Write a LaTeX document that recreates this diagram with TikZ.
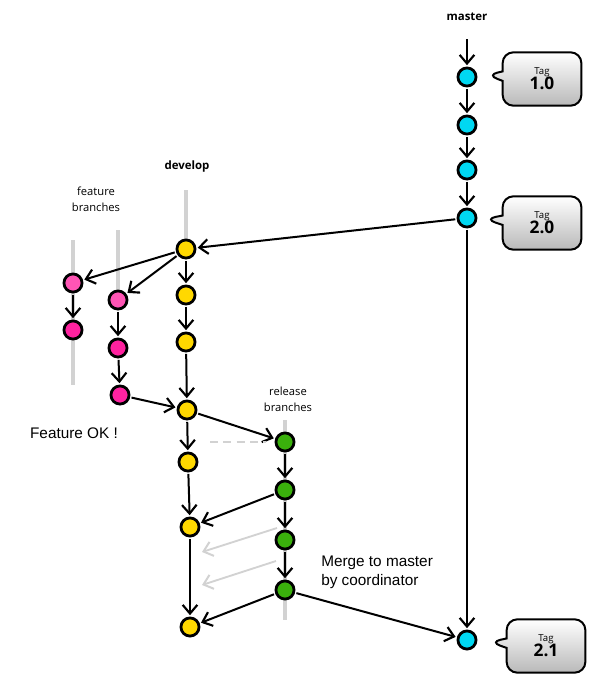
\documentclass[tikz,border=0pt]{standalone}
\usepackage{fontspec}
\setmainfont{Open Sans}
\newfontfamily\arialf{Liberation Sans}
\usetikzlibrary{arrows.meta,shapes.callouts}
\definecolor{cyanc}{HTML}{00D8F2}
\definecolor{yelc}{HTML}{FFD800}
\definecolor{pinkl}{HTML}{FF55B5}
\definecolor{pinkc}{HTML}{FF22A0}
\definecolor{greenc}{HTML}{3AB00C}
\definecolor{greyl}{HTML}{D2D2D2}
\tikzset{
  commit/.style={circle, draw=black, line width=2.1pt, minimum size=13.6pt, inner sep=0pt},
  mc/.style={commit, fill=cyanc},
  dc/.style={commit, fill=yelc},
  fcl/.style={commit, fill=pinkl},
  fc/.style={commit, fill=pinkc},
  rc/.style={commit, fill=greenc},
  arr/.style={-{Straight Barb[length=6.5pt,width=11pt,line width=1.6pt]}, line width=1.5pt, black, shorten >=1pt, shorten <=1pt},
  garr/.style={-{Straight Barb[length=6.5pt,width=11pt,line width=1.5pt]}, line width=1.4pt, greyl},
  gline/.style={line width=2.4pt, greyl},
  tagbox/.style={rectangle callout, draw=black, line width=1.5pt, rounded corners=8pt,
     top color=white, bottom color=gray!55, minimum width=59pt, minimum height=40pt,
     align=center, inner sep=2pt},
  lbl/.style={font=\bfseries\fontsize{8.6}{10}\selectfont, inner sep=0pt},
  sml/.style={font=\fontsize{8.4}{12}\selectfont, align=center, inner sep=0pt},
  big/.style={font=\arialf\fontsize{11.5}{14.2}\selectfont, inner sep=0pt, align=left}
}
\begin{document}
\begin{tikzpicture}[x=0.75pt,y=-0.75pt]
\useasboundingbox (0,0) rectangle (614,697);
% grey branch lines
\draw[gline] (186,190) -- (186,240);
\draw[gline] (73,240) -- (73,385);
\draw[gline] (118,230) -- (118,292);
\draw[gline] (285,420) -- (285,620);
% labels
\node[lbl] (lm) at (467,17) {master};
\node[lbl] (ld) at (187,167) {develop};
\node[sml] (lf) at (96,199) {feature\\branches};
\node[sml] (lr) at (288,399) {release\\branches};
\node[big] (lok) at (74,433) {Feature OK !};
\node[big, anchor=west] (lmerge) at (321,572) {Merge to master\\by coordinator};
% master
\coordinate (mtop) at (467,38);
\node[mc] (m1) at (467,77) {};
\node[mc] (m2) at (467,125) {};
\node[mc] (m3) at (467,170) {};
\node[mc] (m4) at (467,218) {};
\node[mc] (m5) at (467,640) {};
% develop
\node[dc] (d1) at (186,249) {};
\node[dc] (d2) at (186,295) {};
\node[dc] (d3) at (186,342) {};
\node[dc] (d4) at (187,410) {};
\node[dc] (d5) at (188,462) {};
\node[dc] (d6) at (190,527) {};
\node[dc] (d7) at (190,627) {};
% features
\node[fcl] (f1a) at (73,283) {};
\node[fc] (f1b) at (73,330) {};
\node[fcl] (f2a) at (118,300) {};
\node[fc] (f2b) at (118,348) {};
\node[fc] (f2c) at (120,395) {};
% release
\node[rc] (r1) at (285,442) {};
\node[rc] (r2) at (285,490) {};
\node[rc] (r3) at (285,540) {};
\node[rc] (r4) at (285,590) {};
% tags
\node[tagbox, callout absolute pointer={(487,75)}] (t1) at (542,79)
  {{\fontsize{7.2}{8}\selectfont Tag}\\[-1pt]{\bfseries\fontsize{13}{14}\selectfont 1.0}};
\node[tagbox, callout absolute pointer={(485,219)}] (t2) at (542,223)
  {{\fontsize{7.2}{8}\selectfont Tag}\\[-1pt]{\bfseries\fontsize{13}{14}\selectfont 2.0}};
\node[tagbox, callout absolute pointer={(490,642)}] (t3) at (546,646)
  {{\fontsize{7.2}{8}\selectfont Tag}\\[-1pt]{\bfseries\fontsize{13}{14}\selectfont 2.1}};
% master arrows
\draw[arr] (mtop) -- (m1);
\draw[arr] (m1) -- (m2);
\draw[arr] (m2) -- (m3);
\draw[arr] (m3) -- (m4);
\draw[arr] (m4) -- (m5);
\draw[arr] (m4) -- (d1);
% develop arrows
\draw[arr] (d1) -- (d2);
\draw[arr] (d2) -- (d3);
\draw[arr] (d3) -- (d4);
\draw[arr] (d4) -- (d5);
\draw[arr] (d5) -- (d6);
\draw[arr] (d6) -- (d7);
% feature arrows
\draw[arr] (d1) -- (f1a);
\draw[arr] (d1) -- (f2a);
\draw[arr] (f1a) -- (f1b);
\draw[arr] (f2a) -- (f2b);
\draw[arr] (f2b) -- (f2c);
\draw[arr] (f2c) -- (d4);
% release arrows
\draw[arr] (d4) -- (r1);
\coordinate (ds) at (210,442);
\coordinate (de) at (266,442);
\draw[greyl, line width=1.6pt, dash pattern=on 6pt off 4pt] (ds) -- (de);
\draw[arr] (r1) -- (r2);
\draw[arr] (r2) -- (r3);
\draw[arr] (r3) -- (r4);
\draw[arr] (r2) -- (d6);
\draw[arr] (r4) -- (d7);
\draw[arr] (r4) -- (m5);
% grey arrows
\coordinate (g1s) at (277,528);
\coordinate (g1e) at (202,552);
\coordinate (g2s) at (276,561);
\coordinate (g2e) at (202,585);
\draw[garr] (g1s) -- (g1e);
\draw[garr] (g2s) -- (g2e);
\end{tikzpicture}
\end{document}
